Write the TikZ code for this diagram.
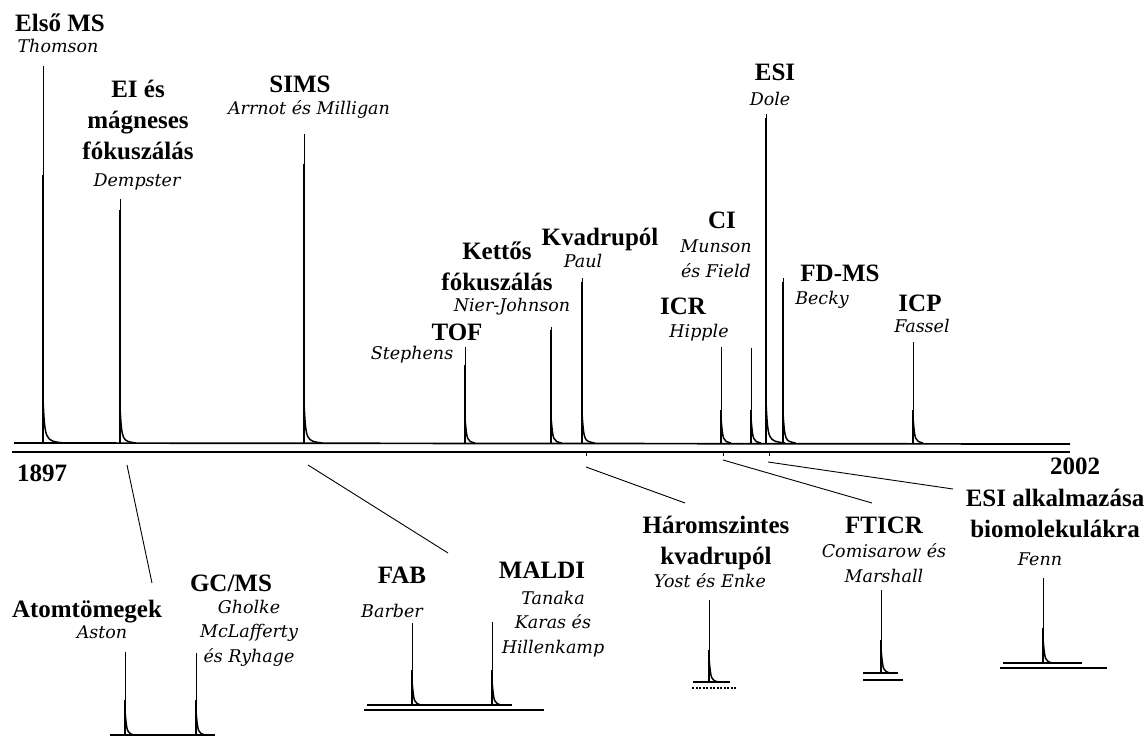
\documentclass[tikz,border=0pt]{standalone}
\usepackage{fontspec}
\setmainfont{Liberation Serif}
\newfontfamily\namefont{DejaVu Serif}

\begin{document}
\begin{tikzpicture}[
  x=1pt, y=-1pt,
  title/.style={font=\bfseries\fontsize{25}{31}\selectfont, align=center, inner sep=0pt, anchor=base},
  who/.style={font=\namefont\itshape\fontsize{17.5}{24.5}\selectfont, align=center, inner sep=0pt, anchor=base},
  trace/.style={line width=1pt},
  foot/.style={line width=2.5pt},
  tail/.style={line width=1.5pt},
  ground/.style={line width=1.7pt},
  smallground/.style={line width=1.2pt},
  timeaxis/.style={line width=1.4pt},
  lead/.style={line width=0.9pt}
]
\useasboundingbox (0,0) rectangle (1148,738);

% main spectrum
\draw[ground] (14,443) -- (1070,444);
\draw[timeaxis] (12,452) -- (1070,452);
\foreach \tx in {586,723,769}
  \draw[lead] (\tx,452) -- (\tx,456);

% peaks: x / top / start of thick foot / baseline
\foreach \x/\t/\k/\b in {43/66/175/443, 120/199/210/443, 304/134/164/443,
    465/347/365/443, 551/327/330/443, 582/278/282/443, 721/347/410/443,
    751/348/410/443, 766/114/118/443, 783/278/282/443, 913/342/410/443,
    125/652/700/735, 196/653/700/735, 412/623/670/705, 492/622/670/705,
    709/600/650/682, 881/590/640/673, 1043/578/628/663}{
  \pgfmathsetmacro\s{18+0.07*(\b-\t)}
  \pgfmathsetmacro\w{6+0.04*(\b-\t)}
  \draw[trace] (\x,\b) -- (\x,\t);
  \draw[foot] (\x,\b) -- (\x,\k);
  \draw[tail] (\x,{\b-\s}) .. controls (\x+2,\b-2) .. (\x+\w,\b);
}

% small spectra
\draw[smallground] (110,735) -- (215,735);
\draw[smallground] (367,705) -- (512,705);
\draw[smallground] (364,710) -- (544,710);
\draw[smallground] (693,682) -- (730,682);
\draw[smallground, dash pattern=on 2pt off 1.5pt] (692,688) -- (737,688);
\draw[smallground] (863,673) -- (898,673);
\draw[smallground] (863,680) -- (903,680);
\draw[smallground] (1003,663) -- (1082,663);
\draw[smallground] (1000,668) -- (1107,668);

% labels above the time axis
\node[title] (elso) at (60,32) {Első MS};
\node[who] (thomson) at (58,53) {Thomson};
\node[title] (ei) at (138,160) {EI és\\mágneses\\fókuszálás};
\node[who] (dempster) at (137,186) {Dempster};
\node[title] (sims) at (300,93) {SIMS};
\node[who] (arrnot) at (309,115) {Arrnot és Milligan};
\node[title] (tof) at (457,340) {TOF};
\node[who] (stephens) at (412,359) {Stephens};
\node[title] (kettos) at (497,290) {Kettős\\fókuszálás};
\node[who] (nier) at (512,311) {Nier-Johnson};
\node[title] (kvadr) at (600,245) {Kvadrupól};
\node[who] (paul) at (583,267) {Paul};
\node[title] (ci) at (722,228) {CI};
\node[who] (munson) at (716,277) {Munson\\és Field};
\node[title] (icr) at (683,314) {ICR};
\node[who] (hipple) at (699,337) {Hipple};
\node[title] (esi) at (775,81) {ESI};
\node[who] (dole) at (770,106) {Dole};
\node[title] (fdms) at (840,281) {FD-MS};
\node[who] (becky) at (822,304) {Becky};
\node[title] (icp) at (920,311) {ICP};
\node[who] (fassel) at (922,332) {Fassel};

% years
\node[title] (start) at (42,481) {1897};
\node[title] (end) at (1075,474) {2002};

% labels below the time axis
\node[title] (atom) at (87,617) {Atomtömegek};
\node[who] (aston) at (102,638) {Aston};
\node[title] (gcms) at (231,591) {GC/MS};
\node[who] (gholke) at (249,662) {Gholke\\McLafferty\\és Ryhage};
\node[title] (fab) at (402,583) {FAB};
\node[who] (barber) at (392,617) {Barber};
\node[title] (maldi) at (542,578) {MALDI};
\node[who] (tanaka) at (553,653) {Tanaka\\Karas és\\Hillenkamp};
\node[title] (harom) at (716,564) {Háromszintes\\kvadrupól};
\node[who] (yost) at (710,587) {Yost és Enke};
\node[title] (fticr) at (884,533) {FTICR};
\node[who] (comis) at (884,582) {Comisarow és\\Marshall};
\node[title] (esialk) at (1055,537) {ESI alkalmazása\\biomolekulákra};
\node[who] (fenn) at (1040,565) {Fenn};

% leaders from the axis to the lower groups
\coordinate (l1a) at (127,465);  \coordinate (l1b) at (152,583);
\coordinate (l2a) at (308,465);  \coordinate (l2b) at (448,553);
\coordinate (l3a) at (586,467);  \coordinate (l3b) at (685,503);
\coordinate (l4a) at (723,460);  \coordinate (l4b) at (872,503);
\coordinate (l5a) at (768,462);  \coordinate (l5b) at (953,489);
\draw[lead] (l1a) -- (l1b);
\draw[lead] (l2a) -- (l2b);
\draw[lead] (l3a) -- (l3b);
\draw[lead] (l4a) -- (l4b);
\draw[lead] (l5a) -- (l5b);
\end{tikzpicture}
\end{document}
